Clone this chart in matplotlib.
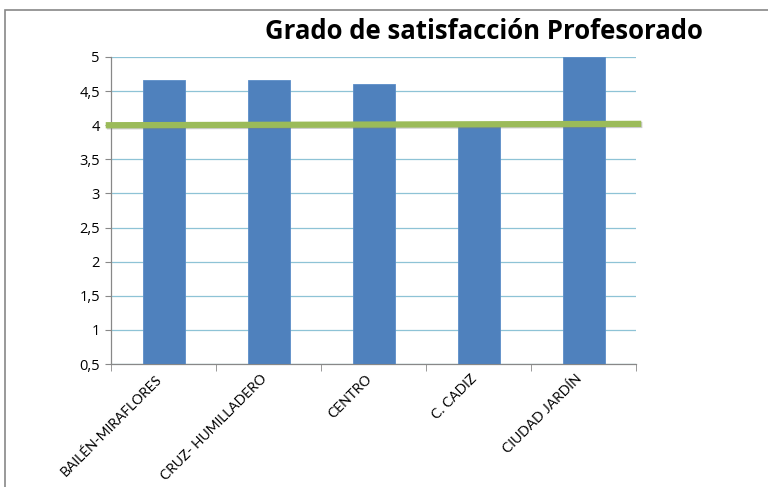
import matplotlib.pyplot as plt
import matplotlib.patheffects as pe
import matplotlib.transforms as mtransforms
from matplotlib.patches import Rectangle
from matplotlib.ticker import FuncFormatter, FixedLocator
import numpy as np

categories = ["BAILÉN-MIRAFLORES", "CRUZ- HUMILLADERO", "CENTRO", "C. CADIZ", "CIUDAD JARDÍN"]
values = [4.67, 4.67, 4.6, 4.0, 5.0]
ref_x = [-0.55, 4.55]
ref_y = [4.0, 4.02]
yticks = [0.5, 1, 1.5, 2, 2.5, 3, 3.5, 4, 4.5, 5]

BAR_COLOR = "#4F81BD"
LINE_COLOR = "#9BBB59"
GRID_COLOR = "#8EC3D6"

plt.rcParams['font.family'] = ['Open Sans', 'DejaVu Sans']

fig = plt.figure(figsize=(7.68, 4.87), dpi=100)
ax = fig.add_axes([111 / 768, 1 - 364 / 487, 525 / 768, 307 / 487])

x = np.arange(len(categories))
ax.bar(x, values, width=0.4, color=BAR_COLOR, edgecolor="#5B8DC8", linewidth=0.6, zorder=3)
ax.plot(ref_x, ref_y, color=LINE_COLOR, linewidth=4.5, solid_capstyle="butt", zorder=4,
        clip_on=False,
        path_effects=[pe.SimpleLineShadow(offset=(0.8, -0.8), shadow_color="gray", alpha=0.4), pe.Normal()])

ax.set_xlim(-0.5, 4.5)
ax.set_ylim(0.5, 5)
ax.set_yticks(yticks)
ax.yaxis.set_major_formatter(FuncFormatter(lambda v, p: f"{v:g}".replace(".", ",")))
ax.grid(axis="y", color=GRID_COLOR, linewidth=0.9, zorder=0)
ax.set_axisbelow(True)

ax.set_xticks(x)
ax.set_xticklabels(categories, rotation=45, ha="right", rotation_mode="anchor",
                   fontsize=10, family=["Lato", "DejaVu Sans"])
ax.tick_params(axis="x", length=0, pad=6)
shift = mtransforms.ScaledTranslation(-8 / 100, 0, fig.dpi_scale_trans)
for lbl in ax.get_xticklabels():
    lbl.set_transform(lbl.get_transform() + shift)
ax.xaxis.set_minor_locator(FixedLocator(np.arange(-0.5, 5, 1)))
ax.tick_params(axis="x", which="minor", length=5, color="#888888")
ax.tick_params(axis="y", length=4, color="#888888", labelsize=10.5, pad=4)

for s in ["top", "right"]:
    ax.spines[s].set_visible(False)
for s in ["left", "bottom"]:
    ax.spines[s].set_color("#888888")
    ax.spines[s].set_linewidth(0.9)

fig.text(0.63, 0.935, "Grado de satisfacción Profesorado", ha="center", va="center",
         fontsize=18.5, fontweight="bold")

fig.patches.append(Rectangle((5 / 768, -0.1), 2, 1 - 10 / 487 + 0.1, transform=fig.transFigure,
                             fill=False, edgecolor="#888888", linewidth=1.2))

fig.savefig("out.png", dpi=100)
